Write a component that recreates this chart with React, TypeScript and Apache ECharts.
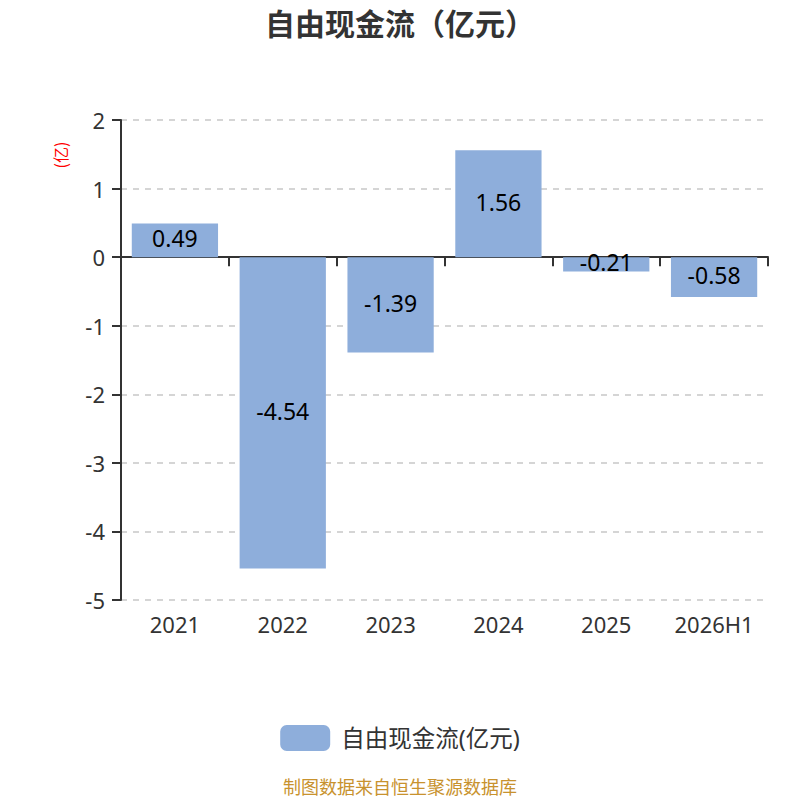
import React, { useEffect, useRef } from "react";
import * as echarts from "echarts";

const categories = ["2021", "2022", "2023", "2024", "2025", "2026H1"];
const values = [0.49, -4.54, -1.39, 1.56, -0.21, -0.58];
const seriesName = "自由现金流(亿元)";
const titleText = "自由现金流（亿元）";
const yAxisName = "(亿)";
const footerText = "制图数据来自恒生聚源数据库";

const FONT = "'Noto Sans', 'Noto Sans CJK SC', sans-serif";
const CJK = "'Noto Sans CJK SC', 'Noto Sans', sans-serif";

export default function App() {
  const ref = useRef<HTMLDivElement>(null);
  useEffect(() => {
    if (!ref.current) return;
    const chart = echarts.init(ref.current, undefined, { renderer: "svg" });
    chart.setOption({
      animation: false,
      textStyle: { fontFamily: FONT },
      title: {
        text: titleText,
        left: "center",
        top: 2,
        textStyle: { fontSize: 30, fontWeight: "bold", color: "#333", fontFamily: CJK },
      },
      grid: { left: 121, right: 32, top: 120, bottom: 200, containLabel: false },
      legend: {
        top: 720,
        left: "center",
        icon: "roundRect",
        itemWidth: 50,
        itemHeight: 26,
        itemGap: 10,
        textStyle: {
          fontSize: 23.5,
          color: "#333",
          fontFamily: FONT,
          padding: [0, 0, 0, 6],
        },
        data: [seriesName],
      },
      xAxis: [
        {
          type: "category",
          data: categories,
          position: "bottom",
          axisLine: { onZero: true, lineStyle: { color: "#333", width: 2 } },
          axisTick: { show: true, length: 9, lineStyle: { color: "#333", width: 2 } },
          axisLabel: { show: false },
        },
        {
          type: "category",
          data: categories,
          position: "bottom",
          axisLine: { show: false },
          axisTick: { show: false },
          axisLabel: { fontSize: 22, color: "#333", margin: 13, fontFamily: FONT },
        },
      ],
      yAxis: {
        type: "value",
        min: -5,
        max: 2,
        interval: 1,
        axisLine: { show: true, lineStyle: { color: "#333", width: 2 } },
        axisTick: { show: true, length: 9, lineStyle: { color: "#333", width: 2 } },
        axisLabel: { fontSize: 22, color: "#333", margin: 16, fontFamily: FONT },
        splitLine: { lineStyle: { type: [6, 6], color: "#c8c8c8", width: 1.5 } },
      },
      graphic: [
        {
          type: "text",
          x: 60,
          y: 155,
          rotation: Math.PI / 2,
          style: {
            text: yAxisName,
            fill: "#ff0000",
            fontSize: 16,
            fontFamily: CJK,
            align: "center",
            verticalAlign: "middle",
          },
        },
        {
          type: "text",
          left: "center",
          top: 777,
          style: {
            text: footerText,
            fill: "#c8922e",
            fontSize: 18,
            fontFamily: CJK,
          },
        },
      ],
      series: [
        {
          name: seriesName,
          type: "bar",
          xAxisIndex: 0,
          data: values,
          barWidth: "80%",
          itemStyle: { color: "#8eaedb" },
          label: {
            show: true,
            position: "inside",
            fontSize: 23,
            color: "#000",
            fontFamily: FONT,
            offset: [0, -2],
          },
        },
      ],
    });
    return () => chart.dispose();
  }, []);
  return (
    <div
      ref={ref}
      style={{ position: "absolute", left: 0, top: 0, width: 800, height: 800 }}
    />
  );
}
